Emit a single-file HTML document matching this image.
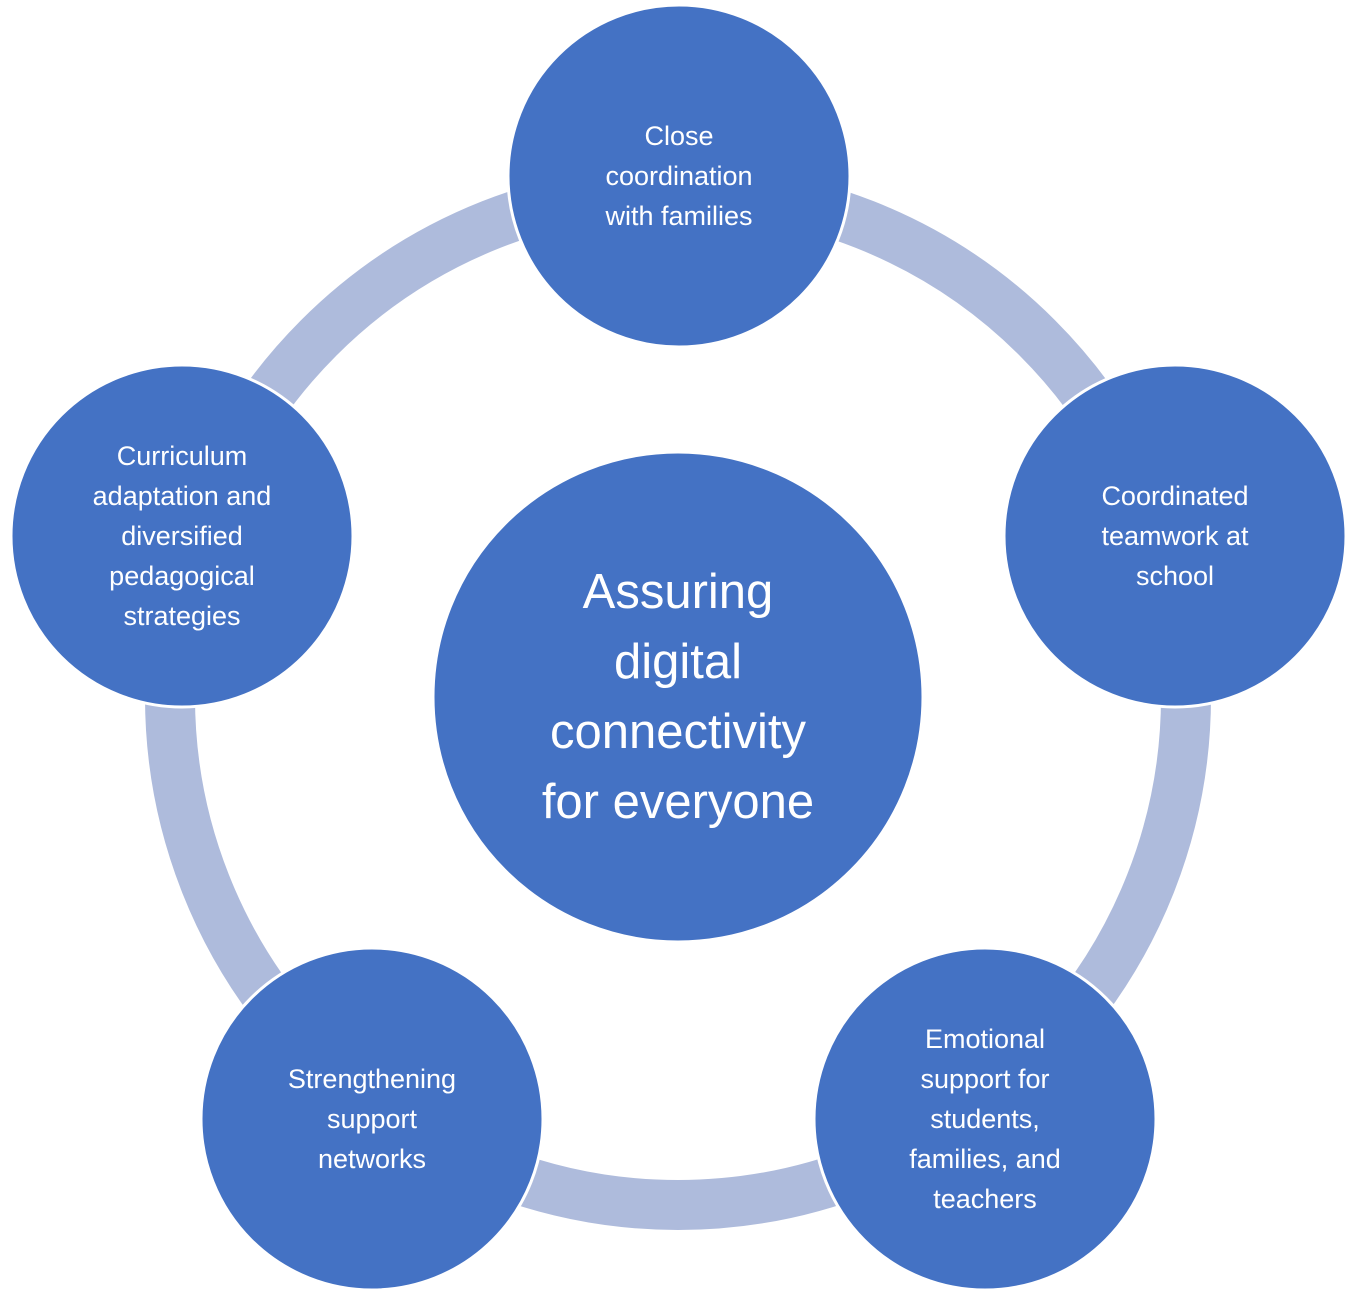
<!DOCTYPE html>
<html><head><meta charset="utf-8"><style>
html,body{margin:0;padding:0;background:#fff;}
svg{display:block;}
text{font-family:"Liberation Sans",sans-serif;fill:#fff;text-anchor:middle;}
.s{font-size:27px;}
.b{font-size:49px;}
</style></head><body>
<svg width="1353" height="1299" viewBox="0 0 1353 1299" xmlns="http://www.w3.org/2000/svg">
<rect width="1353" height="1299" fill="#fff"/>
<circle cx="678" cy="697" r="508" fill="none" stroke="#AEBBDC" stroke-width="50"/>
<g fill="#4472C4" stroke="#fff" stroke-width="3">
<circle cx="679" cy="176" r="171"/>
<circle cx="1175" cy="536" r="171"/>
<circle cx="182" cy="536" r="171"/>
<circle cx="372" cy="1119" r="171"/>
<circle cx="985" cy="1119" r="171"/>
<circle cx="678" cy="697" r="245"/>
</g>
<text class="s" x="679" y="145">Close</text>
<text class="s" x="679" y="185">coordination</text>
<text class="s" x="679" y="225">with families</text>
<text class="s" x="1175" y="505">Coordinated</text>
<text class="s" x="1175" y="545">teamwork at</text>
<text class="s" x="1175" y="585">school</text>
<text class="s" x="182" y="465">Curriculum</text>
<text class="s" x="182" y="505">adaptation and</text>
<text class="s" x="182" y="545">diversified</text>
<text class="s" x="182" y="585">pedagogical</text>
<text class="s" x="182" y="625">strategies</text>
<text class="s" x="372" y="1088">Strengthening</text>
<text class="s" x="372" y="1128">support</text>
<text class="s" x="372" y="1168">networks</text>
<text class="s" x="985" y="1048">Emotional</text>
<text class="s" x="985" y="1088">support for</text>
<text class="s" x="985" y="1128">students,</text>
<text class="s" x="985" y="1168">families, and</text>
<text class="s" x="985" y="1208">teachers</text>
<text class="b" x="678" y="608">Assuring</text>
<text class="b" x="678" y="678">digital</text>
<text class="b" x="678" y="748">connectivity</text>
<text class="b" x="678" y="818">for everyone</text>
</svg>
</body></html>
